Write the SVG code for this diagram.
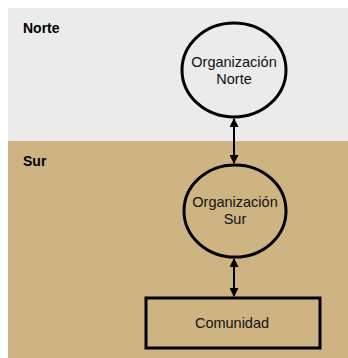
<svg xmlns="http://www.w3.org/2000/svg" width="348" height="358" viewBox="0 0 348 358">
<defs>
<marker id="ah" viewBox="0 0 10 10" refX="9" refY="5" markerWidth="10" markerHeight="9" markerUnits="userSpaceOnUse" orient="auto-start-reverse">
<path d="M0,0 L10,5 L0,10 z" fill="#000"/>
</marker>
<style>
.zone{font-family:"Liberation Sans",Arial,sans-serif;font-weight:bold;font-size:14px;fill:#000}
.lbl{font-family:"Liberation Sans",Arial,sans-serif;font-size:14.5px;fill:#111;text-anchor:middle}
.shape{fill:none;stroke:#000;stroke-width:3}
.conn{stroke:#000;stroke-width:2;fill:none;marker-start:url(#ah);marker-end:url(#ah)}
</style>
</defs>
<rect x="0" y="0" width="348" height="358" fill="#fff"/>
<rect id="norte-zone" x="8" y="8" width="340" height="133" fill="#ebebeb"/>
<rect id="sur-zone" x="8" y="141" width="340" height="217" fill="#cfb483"/>
<text class="zone" x="23" y="33">Norte</text>
<text class="zone" x="23" y="166">Sur</text>
<g id="connectors">
<line class="conn" x1="234" y1="119" x2="234" y2="163"/>
<line class="conn" x1="234" y1="259" x2="234" y2="296"/>
</g>
<g id="org-norte">
<ellipse class="shape" cx="234" cy="70" rx="52" ry="47"/>
<text class="lbl" x="234" y="67">Organización</text>
<text class="lbl" x="234" y="84">Norte</text>
</g>
<g id="org-sur">
<ellipse class="shape" cx="235" cy="211" rx="51" ry="46"/>
<text class="lbl" x="235" y="207">Organización</text>
<text class="lbl" x="235" y="224">Sur</text>
</g>
<g id="comunidad">
<rect class="shape" x="146" y="298" width="174" height="50"/>
<text class="lbl" x="232" y="328">Comunidad</text>
</g>
</svg>
